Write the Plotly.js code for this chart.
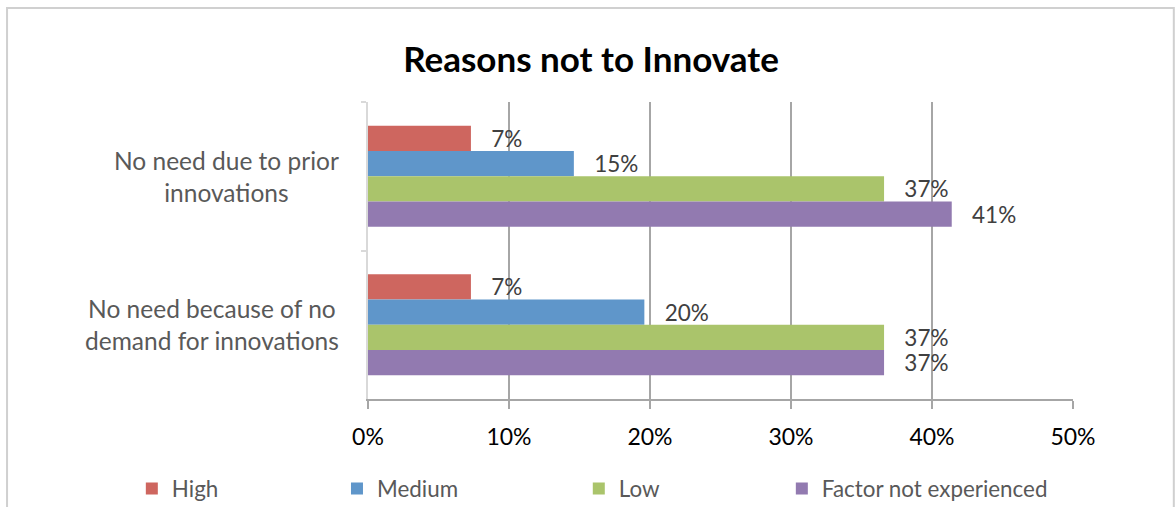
<!DOCTYPE html>
<html>
<head>
<meta charset="utf-8">
<script src="https://cdn.plot.ly/plotly-3.0.1.min.js"></script>
<style>
  html, body { margin: 0; padding: 0; background: #ffffff; }
  #chart { width: 1175px; height: 507px; }
</style>
</head>
<body>
<div id="chart"></div>
<script>
// ---- data ----
const categories = ["No need due to prior innovations", "No need because of no demand for innovations"];
const categoryLabels = ["No need due to prior<br>innovations", "No need because of no<br>demand for innovations"];
const seriesNames = ["High", "Medium", "Low", "Factor not experienced"];
const highValues = [0.073, 0.073];
const mediumValues = [0.146, 0.196];
const lowValues = [0.366, 0.366];
const factorValues = [0.414, 0.366];
const xTickValues = [0, 0.1, 0.2, 0.3, 0.4, 0.5];
const xTickLabels = ["0%", "10%", "20%", "30%", "40%", "50%"];
const chartTitle = "Reasons not to Innovate";

// ---- styles ----
const colors = ["#CE665F", "#5F96CA", "#AAC46B", "#927AB0"];
const allValues = [highValues, mediumValues, lowValues, factorValues];
const FONT = "Lato, 'Open Sans', sans-serif";
const PAD = "\u00a0\u00a0\u00a0";
const legendIds = ["legend", "legend2", "legend3", "legend4"];
const legendX = [-0.335, -0.044, 0.299, 0.587];

const traces = allValues.map((vals, i) => ({
  type: "bar",
  orientation: "h",
  name: seriesNames[i],
  y: categories,
  x: vals,
  legend: legendIds[i],
  marker: { color: colors[i], line: { width: 0 } },
  texttemplate: PAD + "%{x:.0%}",
  textposition: "outside",
  constraintext: "none",
  cliponaxis: false,
  textfont: { family: FONT, size: 22.5, color: "#404040" },
  hoverinfo: "skip"
}));

const annotations = categories.map((c, i) => ({
  xref: "paper", yref: "y",
  x: -0.038, y: c,
  xanchor: "right", yanchor: "middle",
  align: "center",
  text: categoryLabels[i],
  showarrow: false,
  font: { family: FONT, size: 24.5, color: "#595959" }
}));

const layout = {
  width: 1175, height: 507,
  margin: { l: 368, r: 102, t: 102, b: 108, pad: 0, autoexpand: false },
  paper_bgcolor: "#ffffff",
  plot_bgcolor: "#ffffff",
  barmode: "group",
  bargap: 0.32,
  bargroupgap: 0,
  showlegend: true,
  title: {
    text: "<b>" + chartTitle + "</b>",
    font: { family: FONT, size: 35, color: "#000000" },
    x: 0.503, xanchor: "center",
    y: 0.882, yanchor: "middle", xref: "container", yref: "container"
  },
  xaxis: {
    range: [0, 0.5],
    tickvals: xTickValues,
    ticktext: xTickLabels,
    showgrid: true, gridcolor: "#A6A6A6", gridwidth: 2,
    zeroline: false,
    showline: true, linecolor: "#A6A6A6", linewidth: 2,
    ticks: "outside", ticklen: 8, tickwidth: 2, tickcolor: "#A6A6A6",
    ticklabelstandoff: 8,
    tickfont: { family: FONT, size: 23, color: "#000000" },
    fixedrange: true
  },
  yaxis: {
    type: "category",
    autorange: "reversed",
    showticklabels: false,
    showgrid: false, zeroline: false,
    showline: true, linecolor: "#D9D9D9", linewidth: 2,
    ticks: "outside", tickson: "boundaries", ticklen: 5, tickwidth: 2, tickcolor: "#D9D9D9",
    fixedrange: true
  },
  annotations: annotations,
  shapes: [{
    type: "rect", xref: "paper", yref: "paper",
    x0: -0.512, x1: 1.143, y0: -0.45, y1: 1.3165,
    line: { color: "#D0D0D0", width: 2 },
    fillcolor: "rgba(0,0,0,0)", layer: "below"
  }]
};

legendIds.forEach((id, i) => {
  layout[id] = {
    orientation: "h",
    x: legendX[i], xanchor: "left",
    y: -0.303, yanchor: "middle",
    font: { family: FONT, size: 22.4, color: "#595959" },
    bgcolor: "rgba(0,0,0,0)"
  };
});

Plotly.newPlot("chart", traces, layout, { staticPlot: true, displayModeBar: false });
</script>
</body>
</html>
